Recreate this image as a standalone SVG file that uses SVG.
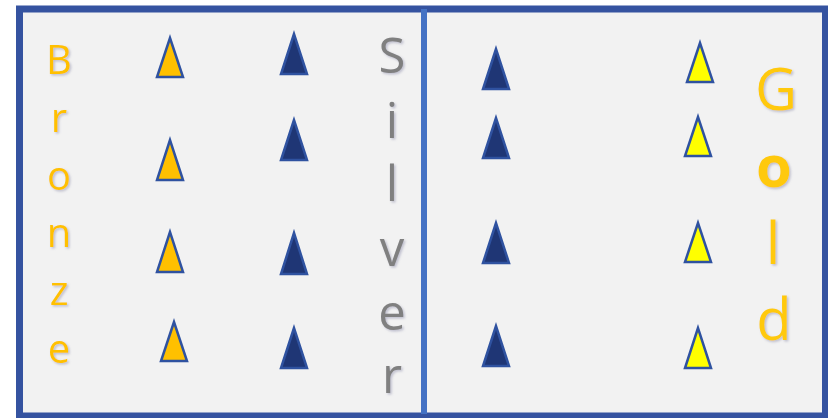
<svg xmlns="http://www.w3.org/2000/svg" width="828" height="418" viewBox="0 0 828 418">
<defs>
<filter id="sh" x="-20%" y="-20%" width="140%" height="140%">
<feDropShadow dx="1.5" dy="1.5" stdDeviation="1" flood-color="#7f7f9f" flood-opacity="0.45"/>
</filter>
</defs>
<style>
.tri{stroke:#2f52a0;stroke-width:2.5;stroke-linejoin:miter}
.or{fill:#ffc000}
.dk{fill:#1f3675}
.ye{fill:#ffff00}
.t{font-family:"Open Sans","Noto Sans",sans-serif;text-anchor:middle;filter:url(#sh)}
.br{fill:#ffc000;font-size:40px}
.sv{fill:#808080;font-size:49px}
.gd{fill:#ffc90e;font-size:58px}
</style>
<rect width="828" height="418" fill="#ffffff"/>
<g id="frame">
<rect x="19.5" y="9" width="806" height="407" fill="#f2f2f2" stroke="#3553a0" stroke-width="7"/>
<line x1="424" y1="9" x2="424" y2="414" stroke="#4472c4" stroke-width="6"/>
</g>
<g id="bronze-label">
<text class="t br" x="59" y="74">B</text>
<text class="t br" x="59" y="132">r</text>
<text class="t br" x="59" y="190">o</text>
<text class="t br" x="59" y="247">n</text>
<text class="t br" x="59" y="305">z</text>
<text class="t br" x="59" y="363">e</text>
</g>
<g id="silver-label">
<text class="t sv" x="392" y="73">S</text>
<text class="t sv" x="392" y="138">i</text>
<text class="t sv" x="392" y="201">l</text>
<text class="t sv" x="392" y="266">v</text>
<text class="t sv" x="392" y="330">e</text>
<text class="t sv" x="392" y="393">r</text>
</g>
<g id="gold-label">
<text class="t gd" x="776" y="110">G</text>
<text class="t gd" x="774" y="187" font-weight="bold">o</text>
<text class="t gd" x="773" y="264">l</text>
<text class="t gd" x="774" y="340">d</text>
</g>
<g id="bronze-triangles">
<polygon class="tri or" points="170,38 157,77 183,77"/>
<polygon class="tri or" points="170,140 157,180 183,180"/>
<polygon class="tri or" points="170,232 157,272 183,272"/>
<polygon class="tri or" points="174,322 161,361 187,361"/>
</g>
<g id="silver-triangles">
<polygon class="tri dk" points="294,34 281,74 307,74"/>
<polygon class="tri dk" points="294,120 281,160 307,160"/>
<polygon class="tri dk" points="294,233 281,274 307,274"/>
<polygon class="tri dk" points="294,328 281,368 307,368"/>
</g>
<g id="right-dark-triangles">
<polygon class="tri dk" points="496,49 483,89 509,89"/>
<polygon class="tri dk" points="496,118 483,158 509,158"/>
<polygon class="tri dk" points="496,223 483,263 509,263"/>
<polygon class="tri dk" points="496,326 483,366 509,366"/>
</g>
<g id="gold-triangles">
<polygon class="tri ye" points="700,43 687,82 713,82"/>
<polygon class="tri ye" points="698,117 685,156 711,156"/>
<polygon class="tri ye" points="698,223 685,262 711,262"/>
<polygon class="tri ye" points="698,328 685,368 711,368"/>
</g>
</svg>
